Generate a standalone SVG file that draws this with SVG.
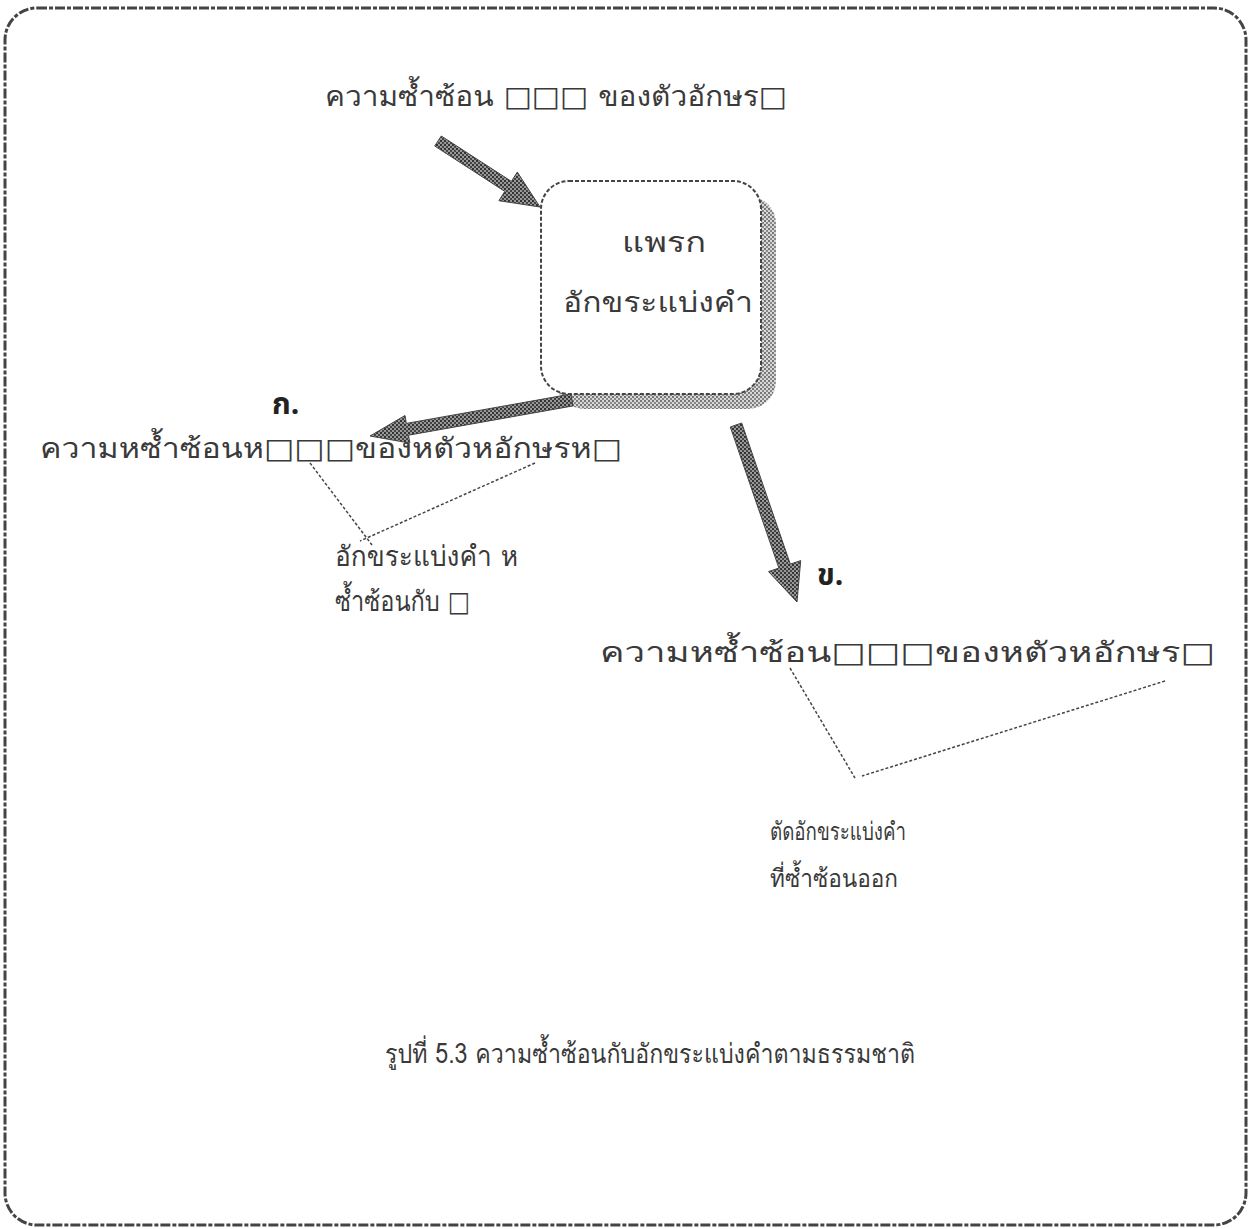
<svg xmlns="http://www.w3.org/2000/svg" width="1252" height="1229" viewBox="0 0 1252 1229">
<style>
.t{font-family:"TlwgTypo","Loma","Garuda","Noto Sans Thai Looped","Noto Sans Thai","Noto Sans","DejaVu Sans",sans-serif;fill:#3a3a3a;font-size:28px}
.cap{font-size:27px}
.sm{font-size:25px}
.lbl{font-family:"Noto Sans Thai","Noto Sans","DejaVu Sans",sans-serif;fill:#222;font-size:30px;font-weight:bold}
.thin{stroke:#444;stroke-width:1.5;stroke-dasharray:3 2;fill:none}
.arr{fill:url(#hatch);stroke:#444;stroke-width:1}
</style>
<defs>
<pattern id="hatch" width="4" height="4" patternUnits="userSpaceOnUse">
<rect width="4" height="4" fill="#999"/>
<rect width="2" height="2" fill="#333"/>
<rect x="2" y="2" width="2" height="2" fill="#444"/>
</pattern>
<pattern id="shade" width="4" height="4" patternUnits="userSpaceOnUse">
<rect width="4" height="4" fill="#d8d8d8"/>
<rect width="2" height="2" fill="#777"/>
<rect x="2" y="2" width="2" height="2" fill="#888"/>
</pattern>
</defs>
<rect x="0" y="0" width="1252" height="1229" fill="#fff"/>
<rect x="5" y="8" width="1241" height="1217" rx="32" fill="none" stroke="#444" stroke-width="3" stroke-dasharray="10 2 4 2"/>

<g id="title"><text class="t" x="325" y="106" textLength="462" lengthAdjust="spacingAndGlyphs">ความซ้ำซ้อน □□□ ของตัวอักษร□</text></g>

<g id="box">
<rect x="556" y="196" width="220" height="213" rx="28" fill="url(#shade)"/>
<rect x="541" y="181" width="220" height="213" rx="28" fill="#fff" stroke="#444" stroke-width="2" stroke-dasharray="4 2"/>
<text class="t" x="622" y="252" textLength="84" lengthAdjust="spacingAndGlyphs">แพรก</text>
<text class="t" x="563" y="312" textLength="190" lengthAdjust="spacingAndGlyphs">อักขระแบ่งคำ</text>
</g>

<g id="labelA"><text class="lbl" x="272" y="414">ก.</text></g>
<g id="lineA"><text class="t" x="40" y="458" textLength="582" lengthAdjust="spacingAndGlyphs">ความหซ้ำซ้อนห□□□ของหตัวหอักษรห□</text></g>
<g id="noteA">
<text class="t" x="335" y="566" textLength="183" lengthAdjust="spacingAndGlyphs">อักขระแบ่งคำ ห</text>
<text class="t" x="335" y="611" textLength="135" lengthAdjust="spacingAndGlyphs">ซ้ำซ้อนกับ □</text>
</g>

<g id="labelB"><text class="lbl" x="817" y="585">ข.</text></g>
<g id="lineB"><text class="t" x="600" y="662" textLength="615" lengthAdjust="spacingAndGlyphs">ความหซ้ำซ้อน□□□ของหตัวหอักษร□</text></g>
<g id="noteB">
<text class="t sm" x="770" y="840" textLength="136" lengthAdjust="spacingAndGlyphs">ตัดอักขระแบ่งคำ</text>
<text class="t sm" x="770" y="887" textLength="128" lengthAdjust="spacingAndGlyphs">ที่ซ้ำซ้อนออก</text>
</g>

<g id="caption"><text class="t cap" x="385" y="1063" textLength="530" lengthAdjust="spacingAndGlyphs">รูปที่ 5.3 ความซ้ำซ้อนกับอักขระแบ่งคำตามธรรมชาติ</text></g>

<g id="connectors">
<polygon class="arr" points="441.3,136 511.4,181.4 517.3,172.1 540,207 498.9,200.7 504.8,191.4 434.7,146"/>
<polygon class="arr" points="573.1,405.9 408.5,435.2 409.9,443.1 370,436 405,415.5 406.3,423.4 570.9,394.1"/>
<polygon class="arr" points="741.7,423 790.3,564.1 800.7,560.6 797,602 768.5,571.6 778.9,568.1 730.3,427"/>
<line class="thin" x1="310" y1="463" x2="372" y2="545"/>
<line class="thin" x1="535" y1="463" x2="360" y2="541"/>
<line class="thin" x1="790" y1="668" x2="855" y2="778"/>
<line class="thin" x1="1165" y1="681" x2="862" y2="776"/>
</g>
</svg>
